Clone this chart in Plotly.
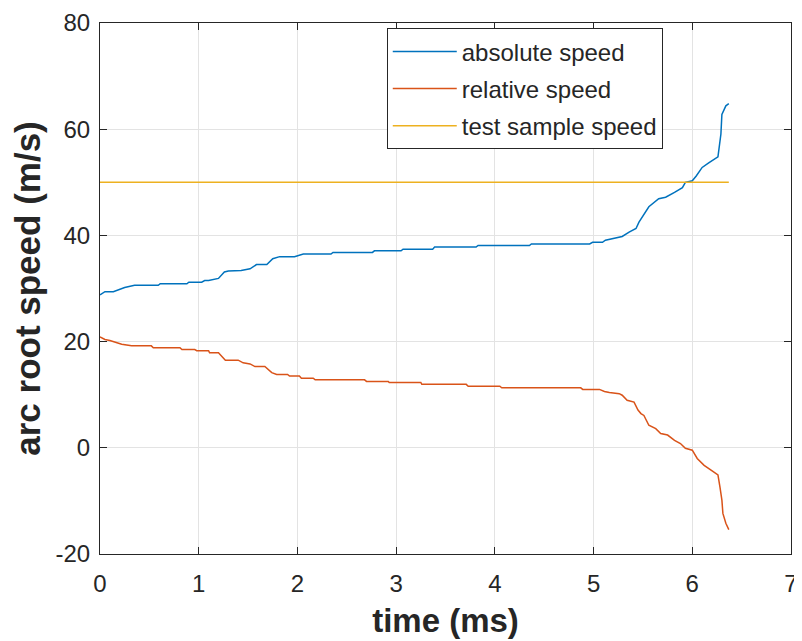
import plotly.graph_objects as go

# ---- data ----
t_abs = [0, 0.05, 0.135, 0.185, 0.25, 0.35, 0.59, 0.61, 0.88, 0.9, 1.03, 1.06, 1.1, 1.2, 1.26,
         1.3, 1.43, 1.52, 1.585, 1.69, 1.75, 1.82, 1.97, 2.06, 2.34, 2.36, 2.76, 2.78, 3.05, 3.07,
         3.37, 3.39, 3.81, 3.83, 4.35, 4.37, 4.96, 4.99, 5.09, 5.12, 5.23, 5.29, 5.36, 5.43, 5.46,
         5.56, 5.66, 5.73, 5.82, 5.9, 5.93, 6.0, 6.04, 6.1, 6.17, 6.25, 6.26, 6.29, 6.3, 6.34, 6.37]
v_abs = [28.8, 29.4, 29.4, 29.8, 30.2, 30.6, 30.6, 30.9, 30.9, 31.2, 31.2, 31.5, 31.5, 31.9, 33.1,
         33.3, 33.4, 33.7, 34.5, 34.5, 35.6, 36.0, 36.0, 36.5, 36.5, 36.8, 36.8, 37.1, 37.1, 37.4,
         37.4, 37.8, 37.8, 38.1, 38.1, 38.4, 38.4, 38.7, 38.7, 39.1, 39.5, 39.8, 40.6, 41.3, 42.5,
         45.4, 46.9, 47.2, 48.1, 49.0, 50.0, 50.3, 51.2, 52.8, 53.7, 54.7, 54.8, 59.1, 62.8, 64.4, 64.8]

t_rel = [0, 0.05, 0.1, 0.15, 0.22, 0.32, 0.52, 0.54, 0.81, 0.83, 0.96, 0.98, 1.1, 1.11, 1.2,
         1.27, 1.4, 1.45, 1.52, 1.57, 1.67, 1.74, 1.79, 1.9, 1.92, 2.02, 2.04, 2.16, 2.18, 2.68,
         2.7, 2.92, 2.93, 3.25, 3.26, 3.71, 3.73, 4.05, 4.07, 4.87, 4.89, 5.06, 5.11, 5.16, 5.26,
         5.29, 5.34, 5.41, 5.45, 5.48, 5.51, 5.56, 5.63, 5.68, 5.75, 5.82, 5.88, 5.93, 6.0, 6.05,
         6.12, 6.19, 6.25, 6.26, 6.28, 6.3, 6.31, 6.34, 6.37]
v_rel = [20.9, 20.4, 20.2, 19.9, 19.5, 19.2, 19.2, 18.85, 18.85, 18.5, 18.5, 18.3, 18.3, 17.9, 17.9,
         16.5, 16.5, 16.0, 15.8, 15.3, 15.3, 14.15, 13.8, 13.8, 13.5, 13.5, 13.1, 13.1, 12.8, 12.8,
         12.5, 12.5, 12.3, 12.3, 11.95, 11.95, 11.6, 11.6, 11.3, 11.3, 11.0, 11.0, 10.6, 10.4, 10.2,
         9.9, 8.95, 8.6, 7.1, 6.45, 6.1, 4.25, 3.6, 2.7, 2.4, 1.4, 0.8, -0.1, -0.45, -2.0,
         -3.3, -4.2, -5.0, -5.1, -7.35, -9.85, -12.35, -14.2, -15.4]

t_test = [0, 6.37]
v_test = [50, 50]

series_names = ["absolute speed", "relative speed", "test sample speed"]
x_ticks = [0, 1, 2, 3, 4, 5, 6, 7]
y_ticks = [-20, 0, 20, 40, 60, 80]

colors = ["#0072BD", "#D95319", "#EDB120"]
FONT = "Liberation Sans, Arial, sans-serif"
AX = "#262626"

fig = go.Figure()
for i, (x, y) in enumerate([(t_abs, v_abs), (t_rel, v_rel), (t_test, v_test)]):
    fig.add_trace(go.Scatter(x=x, y=y, mode="lines", name=series_names[i],
                             legendgroup=f"g{i}",
                             line=dict(color=colors[i], width=1.5)))

axis_common = dict(
    showline=True, linecolor=AX, linewidth=1, mirror="ticks",
    ticks="inside", ticklen=7, tickcolor=AX, tickwidth=1,
    showgrid=True, gridcolor="#e3e3e3", gridwidth=1, zeroline=False,
    tickfont=dict(family=FONT, size=24, color=AX),
    automargin=False,
)

fig.update_xaxes(range=[0, 7], tickvals=x_ticks, ticktext=[str(v) for v in x_ticks],
                 ticklabelstandoff=8,
                 title=dict(text="<b>time (ms)</b>", font=dict(family=FONT, size=33, color=AX), standoff=13),
                 **axis_common)
fig.update_yaxes(range=[-20, 80], tickvals=y_ticks, ticktext=[str(v) for v in y_ticks],
                 ticklabelstandoff=4,
                 title=dict(text="<b>arc root speed (m/s)</b>", font=dict(family=FONT, size=35, color=AX), standoff=5),
                 **axis_common)

# the page body adds an 8px offset, so the figure is sized to the remaining window
fig.update_layout(
    width=794, height=633,
    margin=dict(l=92, r=11, t=15, b=87),
    paper_bgcolor="white", plot_bgcolor="white",
    showlegend=True,
    legend=dict(x=0.415, y=0.99, xanchor="left", yanchor="top",
                bgcolor="white", bordercolor=AX, borderwidth=1,
                font=dict(family=FONT, size=24, color=AX),
                itemwidth=64,
                traceorder="grouped", tracegroupgap=3),
)

fig.write_html("out.html")
